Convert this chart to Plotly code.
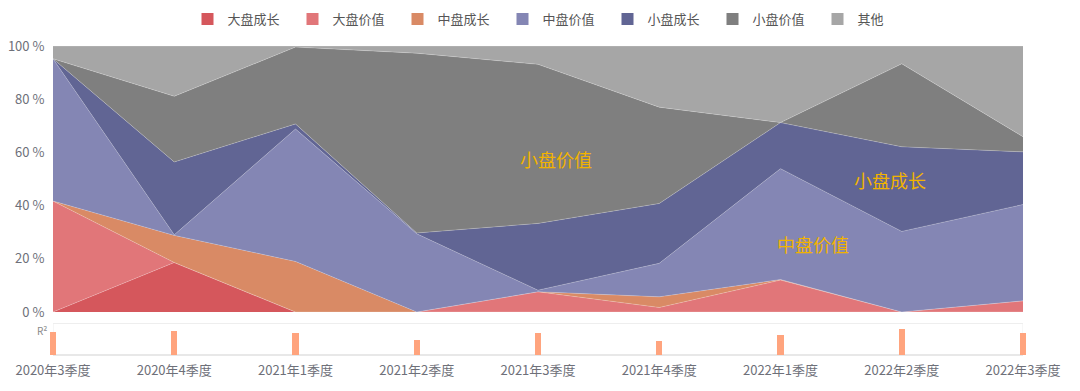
import plotly.graph_objects as go

categories = ["2020年3季度", "2020年4季度", "2021年1季度", "2021年2季度", "2021年3季度",
              "2021年4季度", "2022年1季度", "2022年2季度", "2022年3季度"]

series_names = ["大盘成长", "大盘价值", "中盘成长", "中盘价值", "小盘成长", "小盘价值", "其他"]

large_growth = [0.0, 18.6, 0.0, 0.0, 0.0, 0.0, 0.0, 0.0, 0.0]
large_value = [41.7, 0.0, 0.0, 0.0, 7.6, 1.7, 12.0, 0.0, 4.2]
mid_growth = [0.0, 10.2, 19.0, 0.0, 0.0, 4.0, 0.2, 0.0, 0.0]
mid_value = [53.5, 0.2, 49.8, 29.4, 0.6, 12.6, 41.7, 30.3, 36.2]
small_growth = [0.0, 27.4, 1.9, 0.3, 25.1, 22.5, 17.3, 31.8, 19.8]
small_value = [0.0, 24.7, 28.9, 67.6, 59.8, 36.2, 0.0, 31.2, 5.7]
others = [4.8, 18.9, 0.4, 2.7, 6.9, 23.0, 28.8, 6.7, 34.1]

r_squared = [0.745, 0.787, 0.713, 0.50, 0.713, 0.468, 0.66, 0.851, 0.702]

y_tick_vals = [0, 20, 40, 60, 80, 100]
y_tick_text = ["0 %", "20 %", "40 %", "60 %", "80 %", "100 %"]

colors = ["#D5575C", "#E17679", "#D98A65", "#8486B4", "#616594", "#7F7F7F", "#A6A6A6"]
bar_color = "#FFA47E"
label_color = "#F2B300"
tick_color = "#6E7079"
font_family = "Noto Sans CJK SC, Noto Sans, sans-serif"

x_idx = list(range(len(categories)))
all_series = [large_growth, large_value, mid_growth, mid_value, small_growth, small_value, others]

fig = go.Figure()
for name, vals, col in zip(series_names, all_series, colors):
    fig.add_trace(go.Scatter(
        x=x_idx, y=vals, name=name, mode="lines", stackgroup="one",
        line=dict(width=0.6, color="rgba(255,255,255,0.35)"),
        fillcolor=col, showlegend=False, hoverinfo="skip",
        xaxis="x", yaxis="y",
    ))

for name, col in zip(series_names, colors):
    fig.add_trace(go.Scatter(
        x=[None], y=[None], name=name, mode="markers",
        marker=dict(symbol="square", size=10, color=col),
        showlegend=True, xaxis="x", yaxis="y",
    ))

fig.add_trace(go.Bar(
    x=x_idx, y=r_squared, width=0.05, marker=dict(color=bar_color, line=dict(width=0)),
    showlegend=False, xaxis="x2", yaxis="y2", hoverinfo="skip",
))

# layout geometry (page body has an 8px margin)
W, H = 1080, 391
ml, mr, mt, mb = 35, 55, 38, 44
pw = W - ml - mr
ph = H - mt - mb
ext = 10  # px extension of bar subplot
unit = (pw - 2 * ext) / 8.0

main_bottom = (H - mb - (312 - 8)) / ph
bar_top = (H - mb - (323.5 - 8)) / ph

fig.update_layout(
    width=W, height=H,
    margin=dict(l=ml, r=mr, t=mt, b=mb, autoexpand=False),
    paper_bgcolor="white", plot_bgcolor="white",
    font=dict(family=font_family, size=13, color=tick_color),
    xaxis=dict(domain=[ext / pw, 1 - ext / pw], range=[0, 8], showticklabels=False,
               showgrid=False, zeroline=False, showline=False, anchor="y", automargin=False),
    yaxis=dict(domain=[main_bottom, 1], range=[0, 100], tickvals=y_tick_vals,
               ticktext=y_tick_text, showgrid=False, zeroline=False, showline=False,
               ticks="outside", ticklen=5, tickcolor="rgba(0,0,0,0)",
               tickfont=dict(size=13, color=tick_color), anchor="x", automargin=False),
    xaxis2=dict(domain=[0, 1], range=[-ext / unit, 8 + ext / unit], tickvals=x_idx,
                ticktext=categories, showgrid=False, zeroline=False, showline=False,
                ticks="outside", ticklen=3, tickcolor="rgba(0,0,0,0)",
                tickfont=dict(size=13, color=tick_color), anchor="y2", automargin=False),
    yaxis2=dict(domain=[0, bar_top], range=[0, 1], showticklabels=False, showgrid=False,
                zeroline=False, showline=False, anchor="x2", automargin=False),
    legend=dict(orientation="h", x=0.5 + 17 / pw, xanchor="center", yref="container",
                y=1 - 11 / H, yanchor="middle", entrywidth=60, entrywidthmode="pixels",
                traceorder="normal",
                font=dict(size=13, color="#555555"), itemsizing="constant",
                bgcolor="rgba(0,0,0,0)"),
    bargap=0,
    shapes=[
        dict(type="rect", xref="x", yref="y2 domain", x0=0, x1=8, y0=0, y1=1,
             line=dict(color="#EEEEEE", width=1), fillcolor="rgba(0,0,0,0)", layer="below"),
        dict(type="line", xref="x", yref="y2 domain", x0=0, x1=8, y0=0, y1=0,
             line=dict(color="#E3E3E3", width=1.5), layer="below"),
    ],
    annotations=[
        dict(text="小盘价值", x=4.15, y=57.5, xref="x", yref="y", showarrow=False,
             font=dict(size=18, color=label_color)),
        dict(text="小盘成长", x=6.9, y=49.5, xref="x", yref="y", showarrow=False,
             font=dict(size=18, color=label_color)),
        dict(text="中盘价值", x=6.27, y=25.5, xref="x", yref="y", showarrow=False,
             font=dict(size=18, color=label_color)),
        dict(text="R²", x=ext / pw, y=1, xref="paper", yref="y2 domain", xanchor="right",
             yanchor="top", xshift=-4, yshift=3, showarrow=False,
             font=dict(size=10, color="#888888")),
    ],
)

fig.write_html("out.html")
